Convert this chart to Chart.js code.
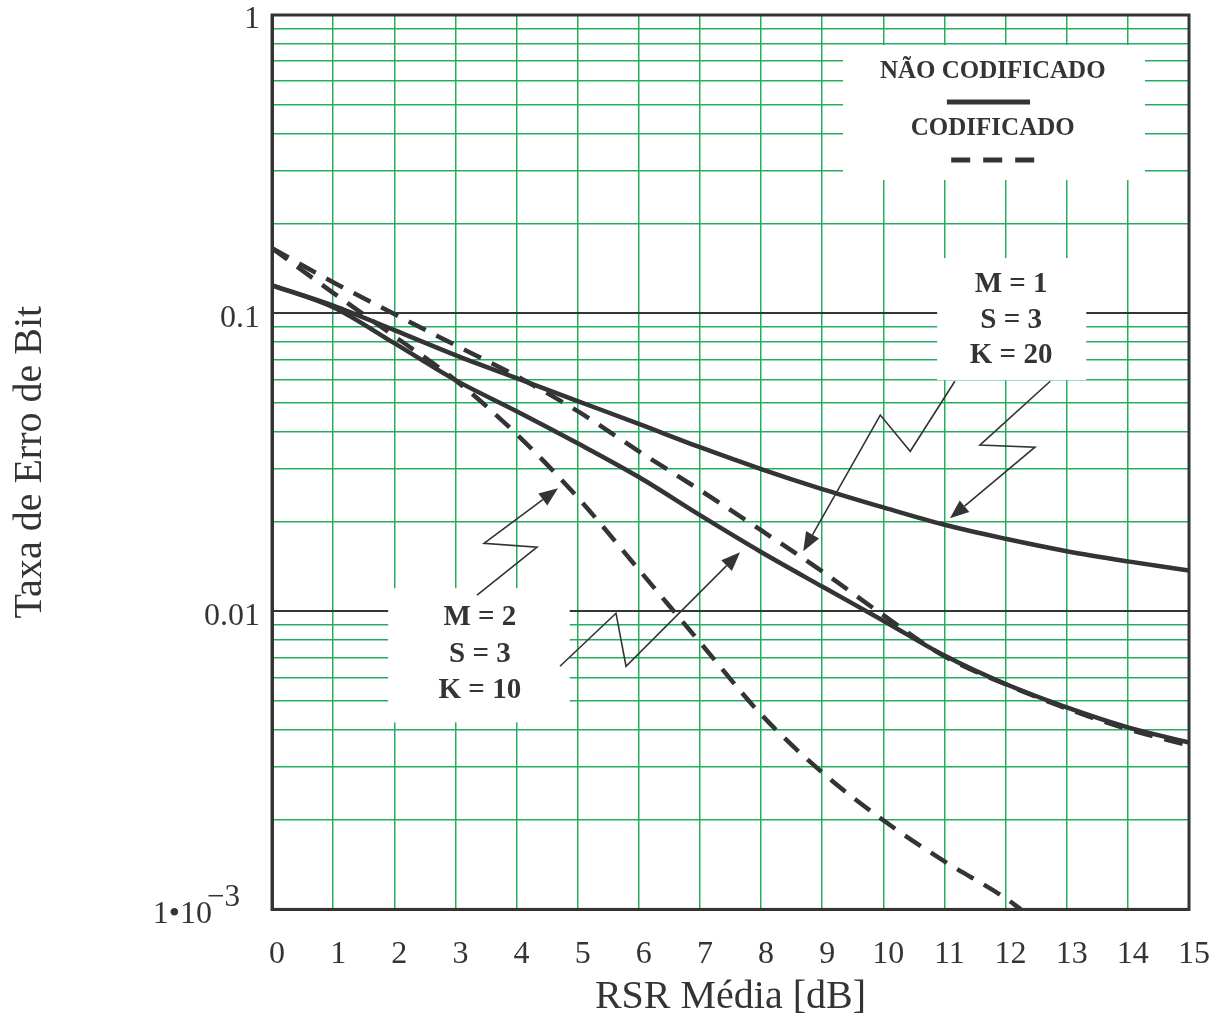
<!DOCTYPE html>
<html lang="pt">
<head>
<meta charset="UTF-8">
<title>Taxa de Erro de Bit x RSR Média</title>
<script src="https://cdn.jsdelivr.net/npm/chart.js"></script>
<style>
  html, body { margin: 0; padding: 0; background: #fff; }
</style>
</head>
<body>
<canvas id="ber" width="1216" height="1021"></canvas>
<script>
// RSR média [dB]
const snr = [0, 1, 2, 3, 4, 5, 6, 7, 8, 9, 10, 11, 12, 13, 14, 15];
const snrCodedM2 = [0, 1, 2, 3, 4, 5, 6, 7, 8, 9, 10, 11, 12, 12.25];

// taxa de erro de bit
const uncodedM1 = [0.124, 0.106, 0.0877, 0.0723, 0.0605, 0.0507, 0.0425, 0.0355, 0.0300, 0.0257, 0.0223, 0.0195, 0.0175, 0.0159, 0.0147, 0.0137];
const uncodedM2 = [0.124, 0.1047, 0.0793, 0.0596, 0.0469, 0.0366, 0.0282, 0.0210, 0.0158, 0.0121, 0.0093, 0.0071, 0.0057, 0.00476, 0.00408, 0.00363];
const codedM1 = [0.165, 0.127, 0.0993, 0.0781, 0.0615, 0.0469, 0.0344, 0.0255, 0.0187, 0.0136, 0.0097, 0.00706, 0.00569, 0.00472, 0.00402, 0.00355];
const codedM2 = [0.165, 0.117, 0.0837, 0.0596, 0.0393, 0.0241, 0.0138, 0.00787, 0.00451, 0.00288, 0.00199, 0.00145, 0.00109, 0.001];

// eixo y
const yDecades = [0.001, 0.01, 0.1, 1];
const yDecadeLabels = ['1•10', '0.01', '0.1', '1'];
const yMantissas = [1, 2, 3, 4, 5, 6, 7, 8, 9];

const ink = '#343437';
const green = '#25ad5f';
const serif = '"Liberation Serif", "Times New Roman", serif';

const yGrid = [];
yDecades.slice(0, -1).forEach(d => yMantissas.forEach(m => yGrid.push(Number((d * m).toPrecision(3)))));
yGrid.push(yDecades[yDecades.length - 1]);
const isDecade = v => yDecades.some(d => Math.abs(v / d - 1) < 1e-6);

const pts = (xs, ys) => ys.map((y, i) => ({ x: xs[i], y: y }));

const lineStyle = {
  borderColor: ink,
  borderWidth: 4.5,
  pointRadius: 0,
  fill: false,
  cubicInterpolationMode: 'monotone'
};
const dash = [19, 12];

// caixas, textos e setas das anotações
const annotations = {
  id: 'annotations',
  beforeDatasetsDraw(chart) {
    const { ctx } = chart;
    const X = v => chart.scales.x.getPixelForValue(v);
    const Y = v => chart.scales.y.getPixelForValue(v);
    const boxes = [
      [9.34, 0.793, 14.28, 0.2795],
      [10.88, 0.153, 13.32, 0.0596],
      [1.90, 0.01195, 4.87, 0.00424]
    ];
    ctx.save();
    ctx.fillStyle = '#fff';
    boxes.forEach(b => {
      ctx.fillRect(X(b[0]), Y(b[1]), X(b[2]) - X(b[0]), Y(b[3]) - Y(b[1]));
    });
    ctx.restore();
  },
  afterDatasetsDraw(chart) {
    const { ctx, chartArea: a } = chart;
    const X = v => chart.scales.x.getPixelForValue(v);
    const Y = v => chart.scales.y.getPixelForValue(v);
    ctx.save();

    // moldura
    ctx.strokeStyle = ink;
    ctx.lineWidth = 3;
    ctx.strokeRect(a.left, a.top, a.right - a.left, a.bottom - a.top);

    // rótulos do eixo y
    ctx.fillStyle = ink;
    ctx.font = '32px ' + serif;
    ctx.textAlign = 'right';
    ctx.textBaseline = 'middle';
    yDecades.forEach((d, i) => {
      if (i === 0) return;
      ctx.fillText(yDecadeLabels[i], a.left - 12, Y(d) + 5);
    });
    ctx.fillText(yDecadeLabels[0], a.left - 60, Y(yDecades[0]) + 5);
    ctx.textAlign = 'left';
    ctx.font = '31px ' + serif;
    ctx.fillText('\u22123', a.left - 65, Y(yDecades[0]) - 12);

    // legenda
    ctx.textAlign = 'center';
    ctx.font = 'bold 25px ' + serif;
    ctx.fillText('NÃO CODIFICADO', X(11.79), Y(0.644));
    ctx.fillText('CODIFICADO', X(11.79), Y(0.4145));
    ctx.lineWidth = 5;
    ctx.beginPath();
    ctx.moveTo(X(11.04), Y(0.5105));
    ctx.lineTo(X(12.40), Y(0.5105));
    ctx.stroke();
    ctx.setLineDash([19, 13]);
    ctx.beginPath();
    ctx.moveTo(X(11.11), Y(0.3263));
    ctx.lineTo(X(12.47), Y(0.3263));
    ctx.stroke();
    ctx.setLineDash([]);

    // parâmetros
    ctx.font = 'bold 29px ' + serif;
    ctx.fillText('M = 1', X(12.09), Y(0.1252));
    ctx.fillText('S = 3', X(12.09), Y(0.0947));
    ctx.fillText('K = 20', X(12.09), Y(0.0723));
    ctx.fillText('M = 2', X(3.40), Y(0.00954));
    ctx.fillText('S = 3', X(3.40), Y(0.00717));
    ctx.fillText('K = 10', X(3.40), Y(0.00543));

    // setas em zigue-zague
    const arrows = [
      [[11.17, 0.0591], [10.44, 0.0344], [9.95, 0.0455], [8.69, 0.0159]],
      [[12.73, 0.0591], [11.58, 0.0361], [12.48, 0.0355], [11.09, 0.0205]],
      [[3.354, 0.01132], [4.335, 0.0164], [3.468, 0.0169], [4.679, 0.02587]],
      [[4.711, 0.00654], [5.627, 0.00985], [5.791, 0.00654], [7.656, 0.01578]]
    ];
    ctx.lineWidth = 1.6;
    arrows.forEach(arr => {
      const p = arr.map(q => [X(q[0]), Y(q[1])]);
      const tip = p[p.length - 1];
      const prev = p[p.length - 2];
      const ang = Math.atan2(tip[1] - prev[1], tip[0] - prev[0]);
      const len = 19, half = 7.5;
      const bx = tip[0] - len * Math.cos(ang), by = tip[1] - len * Math.sin(ang);
      ctx.beginPath();
      ctx.moveTo(p[0][0], p[0][1]);
      for (let i = 1; i < p.length - 1; i++) ctx.lineTo(p[i][0], p[i][1]);
      ctx.lineTo(bx, by);
      ctx.stroke();
      ctx.beginPath();
      ctx.moveTo(tip[0], tip[1]);
      ctx.lineTo(bx + half * Math.sin(ang), by - half * Math.cos(ang));
      ctx.lineTo(bx - half * Math.sin(ang), by + half * Math.cos(ang));
      ctx.closePath();
      ctx.fill();
    });
    ctx.restore();
  }
};

new Chart(document.getElementById('ber'), {
  type: 'line',
  data: {
    datasets: [
      Object.assign({ label: 'Não codificado M = 1', data: pts(snr, uncodedM1) }, lineStyle),
      Object.assign({ label: 'Não codificado M = 2', data: pts(snr, uncodedM2) }, lineStyle),
      Object.assign({ label: 'Codificado M = 1', data: pts(snr, codedM1), borderDash: dash }, lineStyle),
      Object.assign({ label: 'Codificado M = 2', data: pts(snrCodedM2, codedM2), borderDash: dash }, lineStyle)
    ]
  },
  options: {
    responsive: false,
    animation: false,
    layout: { padding: { top: 15, right: 27, left: 0, bottom: 0 } },
    plugins: {
      legend: { display: false },
      tooltip: { enabled: false }
    },
    scales: {
      x: {
        type: 'linear',
        min: 0,
        max: 15,
        ticks: {
          stepSize: 1,
          color: ink,
          padding: 0,
          labelOffset: 5,
          font: { family: serif, size: 32, lineHeight: 2.8 }
        },
        grid: { color: green, lineWidth: 1.5, drawTicks: false },
        border: { color: ink, width: 3 },
        title: {
          display: true,
          text: 'RSR Média [dB]',
          color: ink,
          font: { family: serif, size: 40 },
          padding: { top: -26, bottom: 0 }
        }
      },
      y: {
        type: 'logarithmic',
        min: 0.001,
        max: 1,
        afterBuildTicks: axis => { axis.ticks = yGrid.map(v => ({ value: v })); },
        ticks: { display: false },
        grid: {
          color: c => isDecade(c.tick.value) ? ink : green,
          lineWidth: c => isDecade(c.tick.value) ? 2 : 1.5,
          drawTicks: false
        },
        border: { color: ink, width: 3 },
        title: {
          display: true,
          text: 'Taxa de Erro de Bit',
          color: ink,
          font: { family: serif, size: 40 },
          padding: { top: 6, bottom: 218 }
        }
      }
    }
  },
  plugins: [annotations]
});
</script>
</body>
</html>
